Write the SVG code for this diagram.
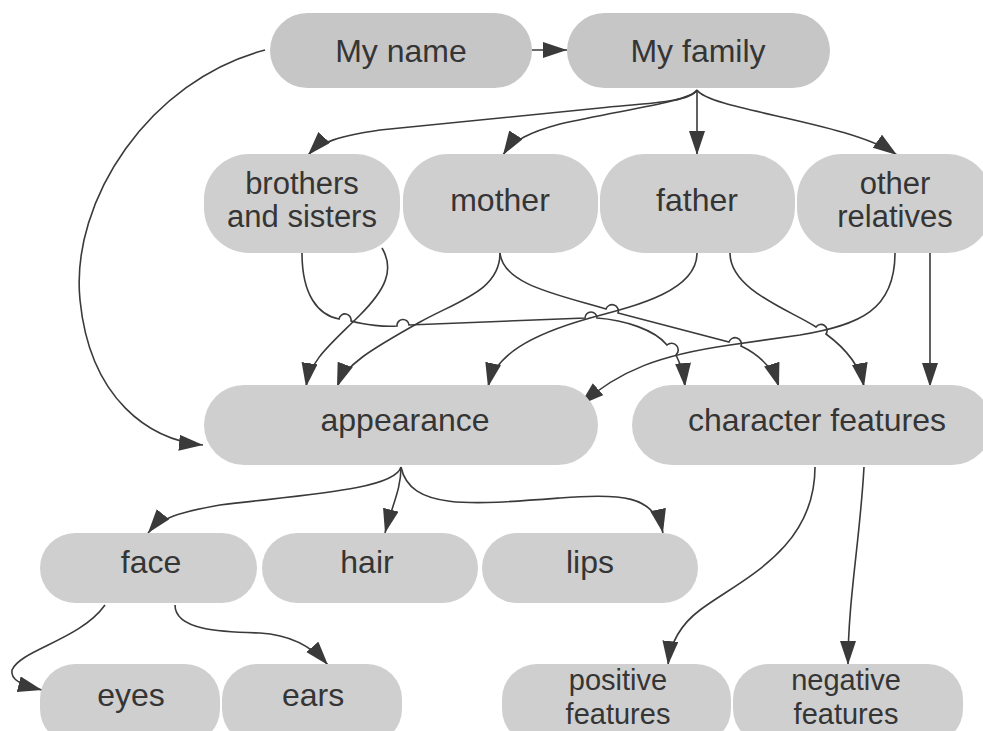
<svg xmlns="http://www.w3.org/2000/svg" width="983" height="731" viewBox="0 0 983 731">
<defs>
<style>
.n{fill:#cfcfcf}
.d{fill:#c6c6c6}
text{font-family:"Liberation Sans",Arial,sans-serif;font-size:32px;fill:#353535;text-anchor:middle}
.s{font-size:31px}
.b{font-size:29px}
.e{fill:none;stroke:#3a3a3a;stroke-width:1.6}
.a{marker-end:url(#ah)}
</style>
<marker id="ah" markerUnits="userSpaceOnUse" markerWidth="26" markerHeight="18" refX="24" refY="8" orient="auto">
<path d="M0,0 L24,8 L0,16 z" fill="#3a3a3a"/>
</marker>
</defs>
<rect width="983" height="731" fill="#ffffff"/>
<g id="connectors">
<path class="e a" d="M532 50 L567 50"/>
<path class="e a" d="M265 50 C150 80 70 200 80 300 C90 400 150 440 203 445"/>
<path class="e a" d="M697 90 C690 102 650 103 600 108 L380 130 C340 136 320 142 308 155"/>
<path class="e a" d="M697 90 C690 102 620 110 560 124 C530 132 512 141 503 155"/>
<path class="e a" d="M697 90 L697 155"/>
<path class="e a" d="M697 90 C710 110 850 122 897 155"/>
<path class="e a" d="M302 253 C302 295 318 315 339 319 A6 6 0 0 1 351 321 C365 325 385 327 397 326 A6 6 0 0 1 409 325 L585 318 A6 6 0 0 1 597 318 C625 320 655 330 667 345 A6 6 0 0 1 676 355 C681 365 684 375 685 387"/>
<path class="e a" d="M382 248 C395 270 385 290 360 315 C330 345 310 360 306 387"/>
<path class="e a" d="M500 253 C500 290 460 300 420 322 C370 350 345 365 337 387"/>
<path class="e a" d="M500 253 C503 285 560 295 606 309 A6 6 0 0 1 618 313 L729 342 A6 6 0 0 1 741 346 C760 355 773 368 779 387"/>
<path class="e a" d="M697 253 C697 290 640 305 590 318 C530 335 495 355 488 387"/>
<path class="e a" d="M730 253 C730 290 790 310 816 327 A6 6 0 0 1 826 334 C845 348 860 365 864 387"/>
<path class="e a" d="M895 253 C895 310 860 325 800 335 L730 345 C660 355 620 370 580 405"/>
<path class="e a" d="M930 253 L930 387"/>
<path class="e a" d="M401 467 C395 490 300 495 220 505 C180 512 160 518 148 533"/>
<path class="e a" d="M401 467 C401 490 392 505 385 533"/>
<path class="e a" d="M401 467 C410 510 470 505 560 498 C620 493 655 495 663 533"/>
<path class="e a" d="M105 605 C80 640 20 650 12 670 C10 680 22 685 42 690"/>
<path class="e a" d="M175 605 C175 630 220 632 260 633 C295 635 315 650 328 665"/>
<path class="e a" d="M815 467 C815 550 740 580 700 610 C680 625 670 645 668 665"/>
<path class="e a" d="M864 467 C860 540 848 600 848 665"/>
</g>
<g id="my-name"><rect class="d" x="270" y="13" width="262" height="75" rx="37.5"/><text x="401" y="62">My name</text></g>
<g id="my-family"><rect class="d" x="567" y="13" width="263" height="75" rx="37.5"/><text x="698" y="62">My family</text></g>
<g id="brothers"><rect class="n" x="204" y="154" width="196" height="99" rx="45"/><text class="s" x="302" y="194">brothers</text><text class="s" x="302" y="227">and sisters</text></g>
<g id="mother"><rect class="n" x="403" y="154" width="195" height="99" rx="45"/><text x="500" y="211">mother</text></g>
<g id="father"><rect class="n" x="600" y="154" width="195" height="99" rx="45"/><text x="697" y="211">father</text></g>
<g id="other-relatives"><rect class="n" x="797" y="154" width="195" height="99" rx="45"/><text class="s" x="895" y="194">other</text><text class="s" x="895" y="227">relatives</text></g>
<g id="appearance"><rect class="n" x="204" y="385" width="394" height="80" rx="40"/><text x="405" y="431">appearance</text></g>
<g id="character-features"><rect class="n" x="632" y="385" width="360" height="80" rx="40"/><text x="817" y="431">character features</text></g>
<g id="face"><rect class="n" x="40" y="533" width="217" height="70" rx="35"/><text x="151" y="573">face</text></g>
<g id="hair"><rect class="n" x="262" y="533" width="216" height="70" rx="35"/><text x="367" y="573">hair</text></g>
<g id="lips"><rect class="n" x="482" y="533" width="216" height="70" rx="35"/><text x="590" y="573">lips</text></g>
<g id="eyes"><rect class="n" x="40" y="664" width="180" height="80" rx="35"/><text x="131" y="706">eyes</text></g>
<g id="ears"><rect class="n" x="222" y="664" width="180" height="80" rx="35"/><text x="313" y="706">ears</text></g>
<g id="positive-features"><rect class="n" x="502" y="664" width="229" height="80" rx="35"/><text class="b" x="618" y="690">positive</text><text class="b" x="618" y="724">features</text></g>
<g id="negative-features"><rect class="n" x="733" y="664" width="230" height="80" rx="35"/><text class="b" x="846" y="690">negative</text><text class="b" x="846" y="724">features</text></g>
</svg>
